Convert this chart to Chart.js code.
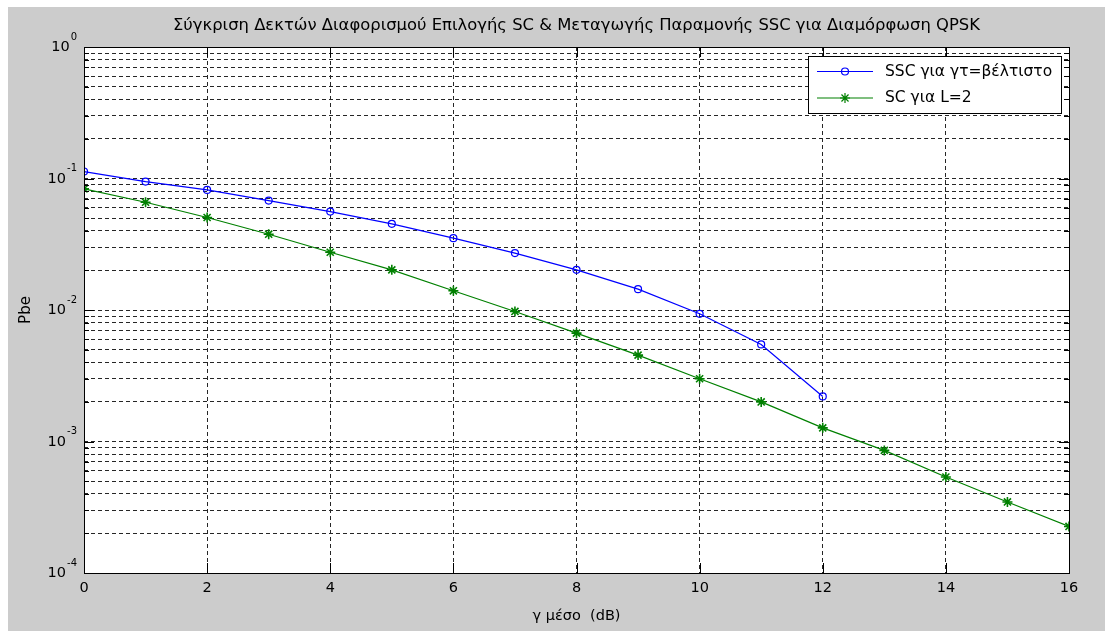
<!DOCTYPE html>
<html>
<head>
<meta charset="utf-8">
<title>Pbe SC / SSC QPSK</title>
<script src="https://cdn.jsdelivr.net/npm/chart.js@4.4.0/dist/chart.umd.min.js"></script>
<style>
  html, body { margin: 0; padding: 0; background: #ffffff; }
  #wrap { width: 1105px; height: 631px; }
</style>
</head>
<body>
<div id="wrap"><canvas id="pbeChart" width="1105" height="631"></canvas></div>
<script>
// average SNR (dB) and bit error probability for each receiver
const snrSsc = [0, 1, 2, 3, 4, 5, 6, 7, 8, 9, 10, 11, 12];
const pbeSsc = [0.113, 0.0947, 0.0819, 0.0679, 0.056, 0.0452, 0.0352, 0.0271, 0.0202, 0.0144, 0.00936, 0.00547, 0.0022];

const snrSc = [0, 1, 2, 3, 4, 5, 6, 7, 8, 9, 10, 11, 12, 13, 14, 15, 16];
const pbeSc = [0.0834, 0.066, 0.0505, 0.0377, 0.0275, 0.0202, 0.014, 0.00975, 0.00667, 0.00454, 0.0030, 0.0020, 0.00127, 0.000856, 0.000537, 0.000347, 0.000226];

// axis ticks
const xTicks = [0, 2, 4, 6, 8, 10, 12, 14, 16];
const yDecades = [1e-4, 1e-3, 1e-2, 1e-1, 1];
const yMinorSteps = [2, 3, 4, 5, 6, 7, 8, 9];

const titleText = 'Σύγκριση Δεκτών Διαφορισμού Επιλογής SC & Μεταγωγής Παραμονής SSC για Διαμόρφωση QPSK';
const xTitle = 'γ μέσο  (dB)';
const yTitle = 'Pbe';

const FONT = '"DejaVu Sans", "Liberation Sans", sans-serif';

function buildYTicks() {
    const ticks = [];
    yDecades.forEach((d, i) => {
        ticks.push({ value: d, major: true });
        if (i < yDecades.length - 1) {
            yMinorSteps.forEach(m => ticks.push({ value: +(d * m).toPrecision(3), major: false }));
        }
    });
    return ticks;
}

// figure background, axes box, inward tick marks, title, superscript labels, legend
const matlabAxes = {
    id: 'matlabAxes',
    beforeDraw(chart) {
        const { ctx, chartArea: a } = chart;
        ctx.save();
        ctx.fillStyle = '#ffffff';
        ctx.fillRect(0, 0, chart.width, chart.height);
        ctx.fillStyle = '#cccccc';
        ctx.fillRect(8, 7, chart.width - 8, chart.height - 7);
        ctx.fillStyle = '#ffffff';
        ctx.fillRect(a.left, a.top, a.right - a.left, a.bottom - a.top);
        ctx.restore();
    },
    afterDraw(chart) {
        const { ctx, chartArea: a } = chart;
        const xs = chart.scales.x;
        const ys = chart.scales.y;
        const px = v => Math.round(v) + 0.5;

        ctx.save();
        ctx.strokeStyle = '#000000';
        ctx.lineWidth = 1;
        ctx.beginPath();
        // ticks on bottom and top
        xTicks.forEach(v => {
            const x = px(xs.getPixelForValue(v));
            ctx.moveTo(x, a.bottom);
            ctx.lineTo(x, a.bottom - 10);
            ctx.moveTo(x, a.top);
            ctx.lineTo(x, a.top + 10);
        });
        // ticks on left and right
        buildYTicks().forEach(t => {
            const y = px(ys.getPixelForValue(t.value));
            const len = t.major ? 10 : 5;
            ctx.moveTo(a.left, y);
            ctx.lineTo(a.left + len, y);
            ctx.moveTo(a.right, y);
            ctx.lineTo(a.right - len, y);
        });
        ctx.stroke();
        ctx.strokeRect(px(a.left), px(a.top), Math.round(a.right - a.left), Math.round(a.bottom - a.top));

        // title
        ctx.fillStyle = '#000000';
        ctx.font = '16.4px ' + FONT;
        ctx.textAlign = 'center';
        ctx.textBaseline = 'middle';
        ctx.fillText(titleText, (a.left + a.right) / 2, 26);

        // y tick labels 10^n
        yDecades.forEach(v => {
            const y = ys.getPixelForValue(v);
            const exp = String(Math.round(Math.log10(v)));
            const right = a.left - 7;
            ctx.textAlign = 'right';
            ctx.font = '10px ' + FONT;
            const ew = ctx.measureText(exp).width;
            ctx.fillText(exp, right, y - 10);
            ctx.font = '14.5px ' + FONT;
            ctx.fillText('10', right - ew - 1, y + 0.5);
        });

        // legend
        const boxW = 253, boxH = 57;
        const bx = Math.round(a.right - 8 - boxW);
        const by = Math.round(a.top + 9);
        ctx.fillStyle = '#ffffff';
        ctx.fillRect(bx, by, boxW, boxH);
        ctx.strokeStyle = '#000000';
        ctx.strokeRect(bx + 0.5, by + 0.5, boxW, boxH);
        const rows = [by + 15.5, by + 42];
        chart.data.datasets.forEach((ds, i) => {
            const y = rows[i];
            ctx.strokeStyle = ds.borderColor;
            ctx.lineWidth = ds.borderWidth;
            ctx.beginPath();
            ctx.moveTo(bx + 9, y);
            ctx.lineTo(bx + 65, y);
            ctx.stroke();
            ctx.fillStyle = ds.pointBackgroundColor;
            Chart.helpers.drawPoint(ctx, {
                pointStyle: ds.pointStyle,
                radius: ds.pointRadius,
                rotation: 0,
                borderWidth: ds.pointBorderWidth
            }, bx + 37, y);
            ctx.fillStyle = '#000000';
            ctx.font = '15.5px ' + FONT;
            ctx.textAlign = 'left';
            ctx.textBaseline = 'middle';
            ctx.fillText(ds.label, bx + 77, y);
        });
        ctx.restore();
    }
};

const ctx = document.getElementById('pbeChart');

new Chart(ctx, {
    type: 'line',
    data: {
        datasets: [
            {
                label: 'SSC για γτ=βέλτιστο',
                data: snrSsc.map((x, i) => ({ x: x, y: pbeSsc[i] })),
                borderColor: '#0000ff',
                borderWidth: 1.2,
                pointStyle: 'circle',
                pointRadius: 3.5,
                pointBorderColor: '#0000ff',
                pointBackgroundColor: 'rgba(0,0,0,0)',
                pointBorderWidth: 1.2,
                tension: 0
            },
            {
                label: 'SC για L=2',
                data: snrSc.map((x, i) => ({ x: x, y: pbeSc[i] })),
                borderColor: '#008000',
                borderWidth: 1.2,
                pointStyle: 'star',
                pointRadius: 5,
                pointBorderColor: '#008000',
                pointBackgroundColor: '#008000',
                pointBorderWidth: 1.6,
                tension: 0
            }
        ]
    },
    options: {
        responsive: false,
        animation: false,
        layout: { padding: { top: 47, right: 36, left: 0, bottom: 0 } },
        plugins: {
            legend: { display: false },
            tooltip: { enabled: false }
        },
        scales: {
            x: {
                type: 'linear',
                min: 0,
                max: 16,
                afterBuildTicks: scale => { scale.ticks = xTicks.map(v => ({ value: v })); },
                afterFit: scale => { scale.height = 58; },
                ticks: {
                    color: '#000000',
                    font: { family: FONT, size: 14.5 },
                    padding: 7,
                    maxRotation: 0
                },
                grid: { color: '#262626', lineWidth: 1, drawTicks: false },
                border: { display: false, dash: [4, 3] },
                title: {
                    display: true,
                    text: xTitle,
                    color: '#000000',
                    font: { family: FONT, size: 14.5 },
                    padding: { top: 0, bottom: 6 }
                }
            },
            y: {
                type: 'logarithmic',
                min: 1e-4,
                max: 1,
                afterBuildTicks: scale => { scale.ticks = buildYTicks(); },
                afterFit: scale => { scale.width = 84; },
                ticks: { display: false },
                grid: { color: '#262626', lineWidth: 1, drawTicks: false },
                border: { display: false, dash: [4, 3] },
                title: {
                    display: true,
                    text: yTitle,
                    color: '#000000',
                    font: { family: FONT, size: 15 },
                    padding: { top: 17, bottom: 0 }
                }
            }
        }
    },
    plugins: [matlabAxes]
});
</script>
</body>
</html>
